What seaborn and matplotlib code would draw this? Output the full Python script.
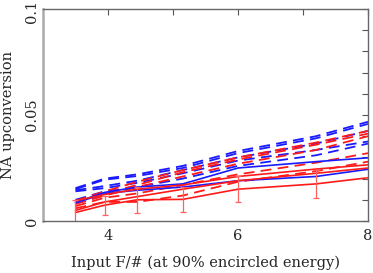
import matplotlib
matplotlib.use("Agg")
import matplotlib.pyplot as plt
import matplotlib.transforms as mtransforms
import seaborn as sns

fnum = [3.5, 3.95, 4.45, 5.15, 6.0, 7.2, 8.0]

blue_dashed = {
    "bd1": [0.0155, 0.0200, 0.0220, 0.0260, 0.0330, 0.0400, 0.0468],
    "bd2": [0.0150, 0.0195, 0.0212, 0.0250, 0.0320, 0.0390, 0.0458],
    "bd3": [0.0145, 0.0165, 0.0190, 0.0240, 0.0300, 0.0365, 0.0425],
    "bd4": [0.0140, 0.0155, 0.0180, 0.0225, 0.0285, 0.0335, 0.0375],
    "bd5": [0.0100, 0.0140, 0.0160, 0.0200, 0.0260, 0.0310, 0.0365],
}
red_dashed = {
    "rd1": [0.0095, 0.0140, 0.0185, 0.0240, 0.0300, 0.0370, 0.0425],
    "rd2": [0.0090, 0.0130, 0.0170, 0.0230, 0.0290, 0.0360, 0.0412],
    "rd3": [0.0080, 0.0120, 0.0160, 0.0210, 0.0270, 0.0335, 0.0400],
    "rd4": [0.0070, 0.0110, 0.0130, 0.0170, 0.0220, 0.0275, 0.0320],
    "rd5": [0.0060, 0.0090, 0.0090, 0.0120, 0.0185, 0.0235, 0.0280],
}
blue_solid = {
    "bs1": [0.0088, 0.0135, 0.0160, 0.0175, 0.0250, 0.0280, 0.0298],
    "bs2": [0.0085, 0.0130, 0.0145, 0.0160, 0.0190, 0.0210, 0.0244],
}
red_solid = {
    "rs1": [0.0095, 0.0125, 0.0150, 0.0170, 0.0210, 0.0245, 0.0265],
    "rs2": [0.0050, 0.0090, 0.0115, 0.0150, 0.0190, 0.0225, 0.0250],
}
err_line = [0.0040, 0.0075, 0.0100, 0.0102, 0.0150, 0.0175, 0.0204]
err_size = [0.0058, 0.0045, 0.0060, 0.0059, 0.0060, 0.0065, 0.0000]

xlabel = "Input F/# (at 90% encircled energy)"
ylabel = "NA upconversion"

sns.set_style("white")
plt.rcParams["font.family"] = ["DejaVu Serif"]

fig = plt.figure(figsize=(3.73, 2.73), dpi=100)
ax = fig.add_axes([43/373, 1-221/273, 325/373, 212/273])

blue = "#1a1aff"
red = "#ff1a1a"
for name, vals in blue_dashed.items():
    sns.lineplot(x=fnum, y=vals, ax=ax, color=blue, linewidth=1.3)
    ax.lines[-1].set_dashes([6, 3.5])
for name, vals in red_dashed.items():
    sns.lineplot(x=fnum, y=vals, ax=ax, color=red, linewidth=1.3)
    ax.lines[-1].set_dashes([6, 3.5])
for name, vals in blue_solid.items():
    sns.lineplot(x=fnum, y=vals, ax=ax, color=blue, linewidth=1.2)
for name, vals in red_solid.items():
    sns.lineplot(x=fnum, y=vals, ax=ax, color=red, linewidth=1.2)
sns.lineplot(x=fnum, y=err_line, ax=ax, color=red, linewidth=1.2)
ax.errorbar(fnum, err_line, yerr=err_size, fmt="none", ecolor="#ff6060",
            elinewidth=0.9, capsize=2.5, capthick=0.9)

ax.set_xlim(3, 8)
ax.set_ylim(0, 0.1)
ax.set_xticks([4, 5, 6, 7, 8])
ax.set_xticklabels(["4", "", "6", "", "8"])
ax.set_yticks([i / 100 for i in range(11)])
ax.set_yticklabels(["0"] + [""] * 4 + ["0.05"] + [""] * 4 + ["0.1"],
                   rotation=90, va="center")
ax.tick_params(direction="in", length=4, width=0.8, color="#555555",
               top=True, right=True, labelsize=10.5)
ax.tick_params(axis="x", pad=6)
ax.tick_params(axis="y", pad=3)
ax.set_xlabel(xlabel, fontsize=10.5, labelpad=9)
ax.set_ylabel(ylabel, fontsize=10.5)
ax.yaxis.set_label_coords(-28/325, 0.5)
top_lbl = ax.get_yticklabels()[-1]
top_lbl.set_transform(top_lbl.get_transform() +
                      mtransforms.ScaledTranslation(0, -2/100, fig.dpi_scale_trans))
for s in ax.spines.values():
    s.set_color("#666666")
    s.set_linewidth(1.0)
ax.spines["left"].set_color("#aaaaaa")
ax.spines["left"].set_linewidth(1.8)

fig.savefig("out.png", dpi=100)
